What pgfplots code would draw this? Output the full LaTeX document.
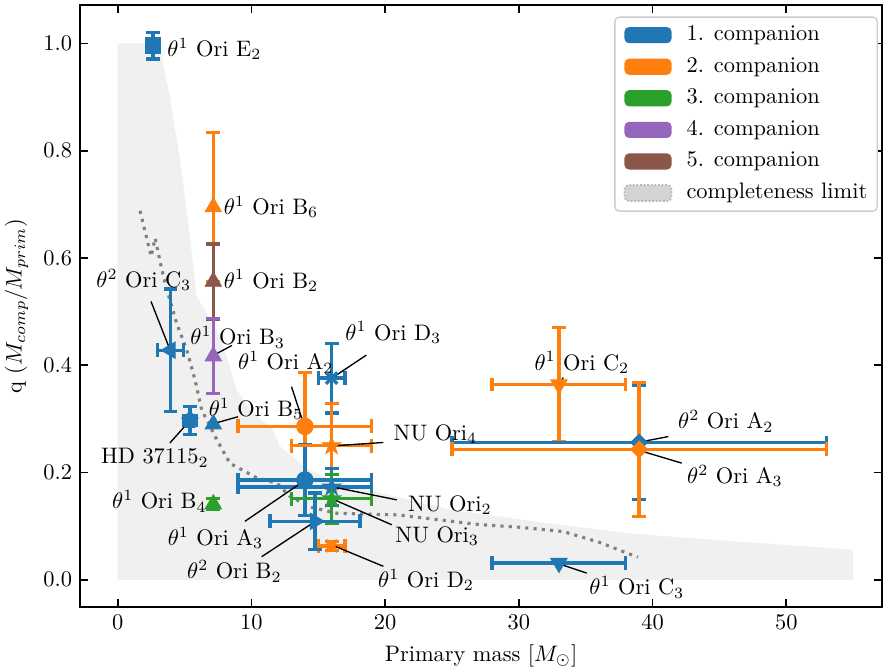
\documentclass[border=0pt]{standalone}
\usepackage{pgfplots}
\pgfplotsset{compat=1.18}
\usetikzlibrary{plotmarks}
\definecolor{c1}{HTML}{1F77B4}
\definecolor{c2}{HTML}{FF7F0E}
\definecolor{c3}{HTML}{2CA02C}
\definecolor{c4}{HTML}{9467BD}
\definecolor{c5}{HTML}{8C564B}
\definecolor{fillgray}{HTML}{F0F0F0}
\pgfdeclareplotmark{fstar}{%
  \pgfpathmoveto{\pgfpointpolar{90}{\pgfplotmarksize}}%
  \pgfpathlineto{\pgfpointpolar{126}{0.382\pgfplotmarksize}}%
  \pgfpathlineto{\pgfpointpolar{162}{\pgfplotmarksize}}%
  \pgfpathlineto{\pgfpointpolar{198}{0.382\pgfplotmarksize}}%
  \pgfpathlineto{\pgfpointpolar{234}{\pgfplotmarksize}}%
  \pgfpathlineto{\pgfpointpolar{270}{0.382\pgfplotmarksize}}%
  \pgfpathlineto{\pgfpointpolar{306}{\pgfplotmarksize}}%
  \pgfpathlineto{\pgfpointpolar{342}{0.382\pgfplotmarksize}}%
  \pgfpathlineto{\pgfpointpolar{18}{\pgfplotmarksize}}%
  \pgfpathlineto{\pgfpointpolar{54}{0.382\pgfplotmarksize}}%
  \pgfpathclose
  \pgfusepathqfillstroke
}
\pgfplotsset{
  pt/.style={only marks, forget plot, mark options={solid, line width=0.4pt}},
  exy/.style={error bars/.cd, x dir=both, x explicit, y dir=both, y explicit,
    error bar style={line width=1.5pt, solid},
    error mark options={rotate=90, line width=1.5pt, mark size=3.1pt}},
  ey/.style={error bars/.cd, y dir=both, y explicit,
    error bar style={line width=1.5pt, solid},
    error mark options={rotate=90, line width=1.5pt, mark size=3.1pt}},
  ex/.style={error bars/.cd, x dir=both, x explicit,
    error bar style={line width=1.5pt, solid},
    error mark options={rotate=90, line width=1.5pt, mark size=3.1pt}},
  mtri/.style={mark=triangle*, mark size=4.2pt},
  mcirc/.style={mark=*, mark size=3.7pt},
  msq/.style={mark=square*, mark size=3.5pt},
  mdia/.style={mark=square*, mark size=2.65pt, mark options={rotate=45}},
  mstar/.style={mark=fstar, mark size=4.3pt},
  mx/.style={mark=x, mark size=3.6pt, mark options={line width=1.5pt}},
  mpent/.style={mark=pentagon*, mark size=3.8pt},
  patchleg/.style={legend image code/.code={\path (0pt,0pt); \fill[##1, draw=none] (1.5pt,-3.6pt) rectangle (22.5pt,3.6pt);}},
}
\begin{document}
\begin{tikzpicture}
\begin{axis}[
  name=ax,
  scale only axis,
  width=358pt, height=268.75pt,
  xmin=-2.82, xmax=57.16,
  ymin=-0.0509, ymax=1.0718,
  clip=false,
  axis line style={line width=0.8pt},
  tick align=inside, tick pos=both,
  major tick length=3.5pt,
  every tick/.style={black, line width=0.8pt},
  xtick={0,10,20,30,40,50},
  ytick={0,0.2,0.4,0.6,0.8,1.0},
  yticklabel style={/pgf/number format/.cd, fixed, fixed zerofill, precision=1},
  xlabel={Primary mass [$M_\odot$]},
  ylabel={q ($M_{comp}/M_{prim}$)},
  legend cell align=left,
  legend style={at={(rel axis cs:0.995,0.981)}, anchor=north east,
    draw=black!20, line width=0.6pt, rounded corners=2pt, fill=white,
    inner xsep=2.5pt, inner ysep=1pt, column sep=4.3pt, row sep=0pt,
    nodes={inner ysep=2.6pt, text height=6.9pt, text depth=2pt}},
]
% completeness region
\addplot[fill=fillgray, draw=none, forget plot] coordinates {
 (0,0) (0,1.0) (3.1,1.0) (3.9,0.90) (4.7,0.777) (5.4,0.64) (5.9,0.528)
 (7.4,0.466) (8.3,0.404) (8.9,0.354) (9.9,0.317) (11.6,0.28) (12.1,0.25)
 (14,0.21) (16,0.185) (19.6,0.162) (25,0.13) (32,0.106) (38,0.087)
 (44.5,0.0745) (55,0.056) (55,0)} -- cycle;
% dotted line
\addplot[gray, line width=1.4pt, dash pattern=on 1.4pt off 2.3pt, forget plot] coordinates {
 (1.67,0.688) (2.5,0.603) (2.8,0.637) (3.2,0.59) (3.54,0.553) (4.41,0.478)
 (5.16,0.429) (5.78,0.373) (6.28,0.317) (7.5,0.257) (8.4,0.217) (10.4,0.19)
 (11.9,0.18) (12.9,0.155) (14.5,0.135) (16.4,0.124) (20.9,0.121) (27,0.103)
 (30,0.098) (33.3,0.09) (36,0.07) (38.9,0.042)};

% legend entries
\addlegendimage{patchleg, fill=c1}\addlegendentry{1. companion}
\addlegendimage{patchleg, fill=c2}\addlegendentry{2. companion}
\addlegendimage{patchleg, fill=c3}\addlegendentry{3. companion}
\addlegendimage{patchleg, fill=c4}\addlegendentry{4. companion}
\addlegendimage{patchleg, fill=c5}\addlegendentry{5. companion}
\addlegendimage{legend image code/.code={\path (0pt,0pt); \draw[fill=black!17, draw=black!28, line width=0.8pt, dash pattern=on 0.8pt off 0.8pt] (1.5pt,-3.6pt) rectangle (22.5pt,3.6pt);}}
\addlegendentry{completeness limit}

% theta1 Ori E
\addplot[c1, pt, msq, ey] coordinates {(2.64,0.996) +- (0,0.025)};
% theta1 Ori B
\addplot[c2, pt, mtri, ey] coordinates {(7.15,0.695) +- (0,0.139)};
\addplot[c5, pt, mtri, ey] coordinates {(7.15,0.556) +- (0,0.07)};
\addplot[c4, pt, mtri, ey] coordinates {(7.15,0.417) +- (0,0.07)};
\addplot[c1, pt, mtri] coordinates {(7.15,0.290)};
\addplot[c3, pt, mtri, ey] coordinates {(7.15,0.141) +- (0,0.01)};
% theta2 Ori C
\addplot[c1, pt, mtri, mark options={rotate=90}, exy] coordinates {(3.95,0.428) +- (0.97,0.114)};
% HD 37115
\addplot[c1, pt, mpent, exy] coordinates {(5.4,0.297) +- (0.45,0.026)};
% theta1 Ori A
\addplot[c2, pt, mcirc, exy] coordinates {(14.0,0.286) +- (5.0,0.10)};
\addplot[c1, pt, mcirc, exy] coordinates {(14.0,0.186) +- (5.0,0.066)};
% theta1 Ori D
\addplot[c1, pt, mx, exy] coordinates {(16.0,0.376) +- (1.0,0.065)};
\addplot[c2, pt, mx, exy] coordinates {(16.0,0.063) +- (1.0,0.008)};
% NU Ori
\addplot[c2, pt, mstar, exy] coordinates {(16.0,0.25) +- (3.0,0.079)};
\addplot[c1, pt, mstar, exy] coordinates {(16.0,0.173) += (3.0,0.035) -= (7.0,0.035)};
\addplot[c3, pt, mstar, exy] coordinates {(16.0,0.151) +- (3.0,0.045)};
% theta2 Ori B
\addplot[c1, pt, mtri, mark options={rotate=-90}, exy] coordinates {(14.75,0.109) +- (3.37,0.053)};
% theta1 Ori C
\addplot[c2, pt, mtri, mark options={rotate=180}, exy] coordinates {(33.0,0.364) +- (5.0,0.106)};
\addplot[c1, pt, mtri, mark options={rotate=180}, ex] coordinates {(33.0,0.031) +- (5.0,0)};
% theta2 Ori A
\addplot[c1, pt, mdia, exy] coordinates {(39.0,0.256) +- (14.0,0.106)};
\addplot[c2, pt, mdia, exy] coordinates {(39.0,0.243) +- (14.0,0.125)};

% annotation lines
\begin{scope}[line width=0.6pt, black]
\draw (axis cs:8.55,0.437) -- (axis cs:7.35,0.421);
\draw (axis cs:9.0,0.304) -- (axis cs:7.3,0.292);
\draw (axis cs:3.9,0.255) -- (axis cs:5.3,0.294);
\draw (axis cs:2.49,0.519) -- (axis cs:3.91,0.429);
\draw (axis cs:13.0,0.36) -- (axis cs:13.85,0.295);
\draw (axis cs:18.6,0.419) -- (axis cs:16.2,0.379);
\draw (axis cs:19.87,0.256) -- (axis cs:16.3,0.25);
\draw (axis cs:20.87,0.149) -- (axis cs:16.3,0.172);
\draw (axis cs:20.5,0.1025) -- (axis cs:16.3,0.148);
\draw (axis cs:19.87,0.025) -- (axis cs:16.3,0.062);
\draw (axis cs:9.52,0.109) -- (axis cs:13.8,0.182);
\draw (axis cs:10.77,0.043) -- (axis cs:14.6,0.106);
\draw (axis cs:33.33,0.377) -- (axis cs:32.95,0.363);
\draw (axis cs:41.18,0.267) -- (axis cs:39.3,0.258);
\draw (axis cs:42.18,0.2175) -- (axis cs:39.3,0.239);
\draw (axis cs:35.08,0.0125) -- (axis cs:33.2,0.028);
\end{scope}

% labels
\begin{scope}[every node/.style={anchor=base west, inner sep=0pt}]
\node at (axis cs:3.69,0.976) {$\theta^1$ Ori E$_2$};
\node at (axis cs:7.9,0.681) {$\theta^1$ Ori B$_6$};
\node at (axis cs:7.9,0.544) {$\theta^1$ Ori B$_2$};
\node at (axis cs:5.41,0.438) {$\theta^1$ Ori B$_3$};
\node at (axis cs:6.78,0.3044) {$\theta^1$ Ori B$_5$};
\node at (axis cs:-1.27,0.2162) {HD 37115$_2$};
\node at (axis cs:-1.62,0.5456) {$\theta^2$ Ori C$_3$};
\node at (axis cs:-0.45,0.1323) {$\theta^1$ Ori B$_4$};
\node at (axis cs:8.97,0.3914) {$\theta^1$ Ori A$_2$};
\node at (axis cs:17.0,0.447) {$\theta^1$ Ori D$_3$};
\node at (axis cs:20.61,0.2597) {NU Ori$_4$};
\node at (axis cs:21.69,0.1274) {NU Ori$_2$};
\node at (axis cs:20.74,0.0696) {NU Ori$_3$};
\node at (axis cs:19.45,-0.0143) {$\theta^1$ Ori D$_2$};
\node at (axis cs:3.71,0.064) {$\theta^1$ Ori A$_3$};
\node at (axis cs:5.16,0.0019) {$\theta^2$ Ori B$_2$};
\node at (axis cs:31.14,0.391) {$\theta^1$ Ori C$_2$};
\node at (axis cs:41.88,0.2815) {$\theta^2$ Ori A$_2$};
\node at (axis cs:42.56,0.18) {$\theta^2$ Ori A$_3$};
\node at (axis cs:35.25,-0.028) {$\theta^1$ Ori C$_3$};
\end{scope}
\end{axis}
\pgfresetboundingbox
\path[use as bounding box] ([xshift=-35.71pt,yshift=-28.57pt]ax.south west) rectangle ([xshift=0.45pt,yshift=2.23pt]ax.north east);
\end{tikzpicture}
\end{document}
